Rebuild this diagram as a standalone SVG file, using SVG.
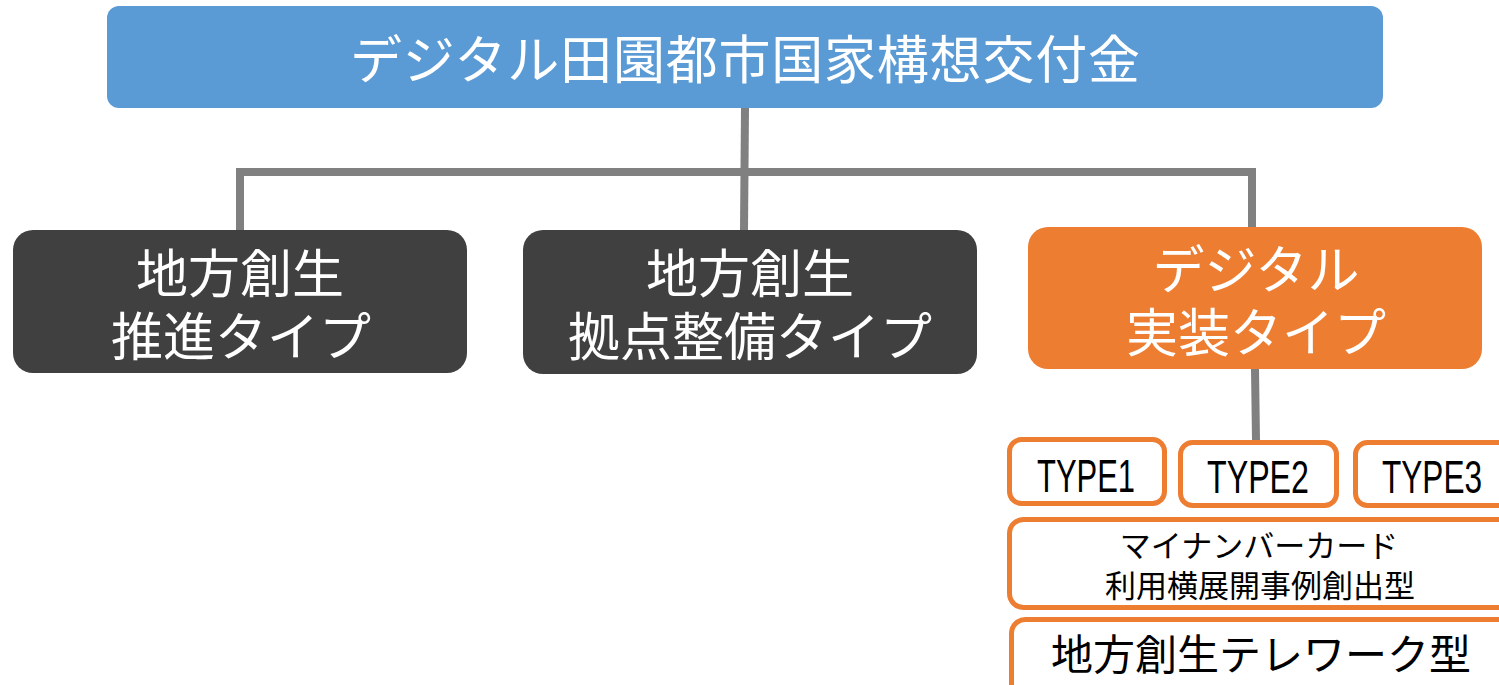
<svg xmlns="http://www.w3.org/2000/svg" width="1499" height="685" viewBox="0 0 1499 685">
<style>
.jp{font-family:"Noto Sans CJK JP","Noto Sans",sans-serif;}
.w{fill:#ffffff;font-size:52px;text-anchor:middle;}
.b{fill:#000000;text-anchor:middle;}
.lat{font-family:"Liberation Sans","Noto Sans",sans-serif;font-size:46px;fill:#000;text-anchor:middle;}
.sub{fill:#ffffff;stroke:#ED7D31;stroke-width:5;}
.con{stroke:#808080;stroke-width:8;fill:none;}
</style>
<rect width="1499" height="685" fill="#ffffff"/>
<g id="connectors">
<path class="con" d="M745 108 L744 230"/>
<path class="con" d="M236 172 L1256 172"/>
<path class="con" d="M240 172 L240 230"/>
<path class="con" d="M1252 172 L1252 227"/>
<path class="con" d="M1255 369 L1256 440"/>
</g>
<g id="root">
<rect x="107" y="6" width="1276" height="102" rx="12" fill="#5B9BD5"/>
<text class="jp w" x="745" y="79" font-size="53" textLength="790" lengthAdjust="spacing">デジタル田園都市国家構想交付金</text>
</g>
<g id="suishin">
<rect x="13" y="230" width="454" height="143" rx="20" fill="#404040"/>
<text class="jp w" x="240" y="293">地方創生</text>
<text class="jp w" x="241" y="356">推進タイプ</text>
</g>
<g id="kyoten">
<rect x="523" y="230" width="454" height="144" rx="20" fill="#404040"/>
<text class="jp w" x="750" y="293">地方創生</text>
<text class="jp w" x="750" y="356">拠点整備タイプ</text>
</g>
<g id="digital">
<rect x="1028" y="227" width="454" height="142" rx="20" fill="#ED7D31"/>
<text class="jp w" x="1256" y="289">デジタル</text>
<text class="jp w" x="1256" y="352">実装タイプ</text>
</g>
<g id="type1">
<rect class="sub" x="1009.5" y="439.5" width="155" height="64" rx="12"/>
<text class="lat" x="1086" y="492" textLength="98" lengthAdjust="spacingAndGlyphs">TYPE1</text>
</g>
<g id="type2">
<rect class="sub" x="1180.5" y="442.5" width="156" height="63" rx="12"/>
<text class="lat" x="1258" y="493" textLength="102" lengthAdjust="spacingAndGlyphs">TYPE2</text>
</g>
<g id="type3">
<rect class="sub" x="1355.5" y="442.5" width="160" height="63" rx="12"/>
<text class="lat" x="1432" y="493" textLength="100" lengthAdjust="spacingAndGlyphs">TYPE3</text>
</g>
<g id="mynumber">
<rect class="sub" x="1009.5" y="519.5" width="510" height="88" rx="14"/>
<text class="jp b" x="1259" y="557" font-size="31">マイナンバーカード</text>
<text class="jp b" x="1260" y="597" font-size="31">利用横展開事例創出型</text>
</g>
<g id="telework">
<rect class="sub" x="1011.5" y="619.5" width="508" height="80" rx="14"/>
<text class="jp b" x="1261" y="670" font-size="42">地方創生テレワーク型</text>
</g>
</svg>
